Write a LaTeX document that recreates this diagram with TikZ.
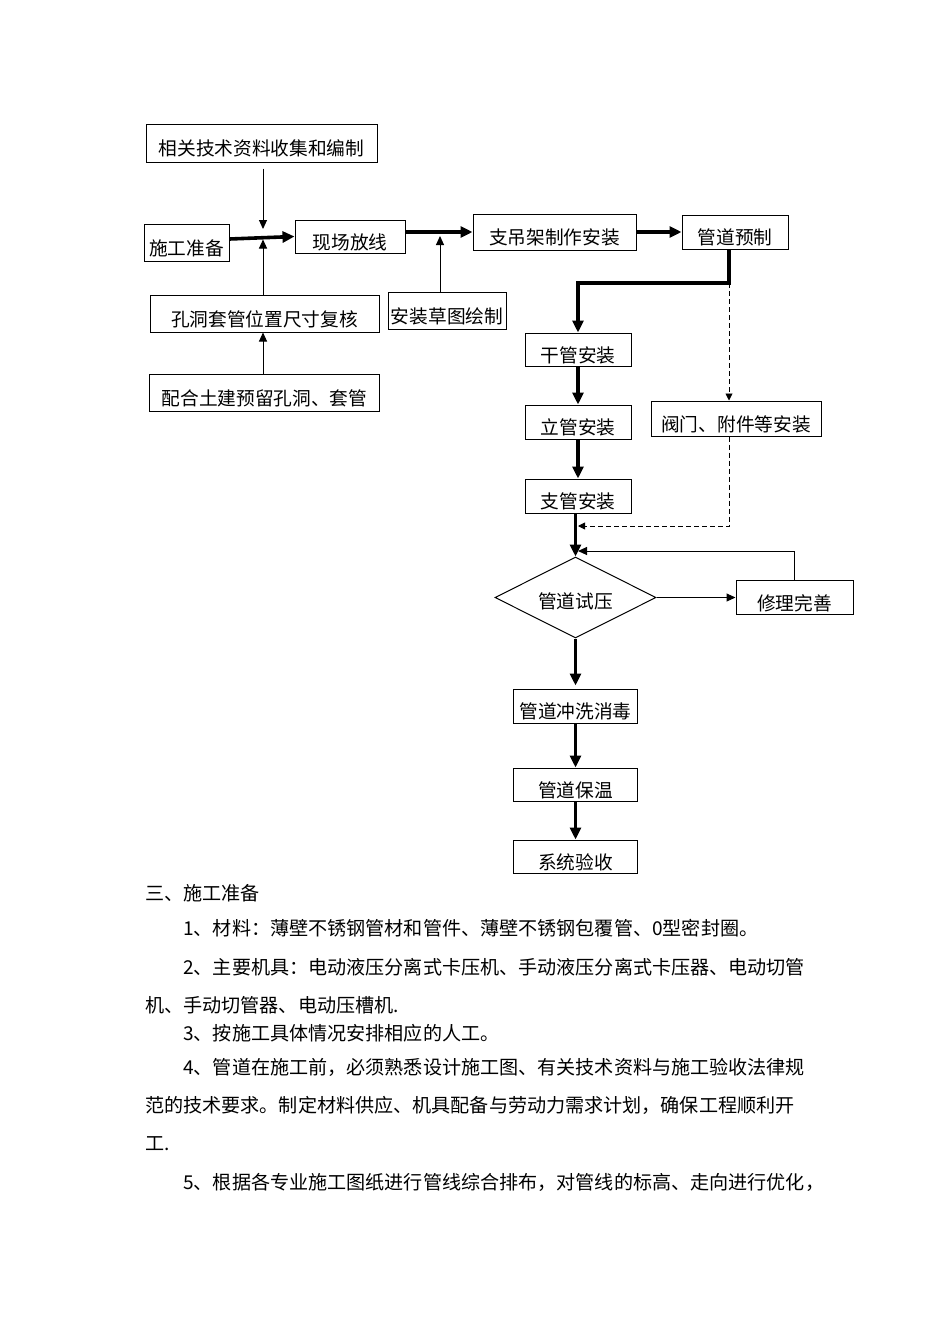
\documentclass[tikz,border=0pt]{standalone}
\usepackage{fontspec}
\usepackage{tikz}
\usetikzlibrary{shapes.geometric, arrows, arrows.meta, positioning, calc}
\newfontfamily\cjkfont{Noto Sans CJK SC}

\begin{document}
\begin{tikzpicture}[x=1pt, y=-1pt,
    font=\cjkfont\fontsize{18.7pt}{22pt}\selectfont,
    box/.style={draw, line width=1pt, inner sep=0pt, text height=29pt, text depth=4pt},
    thickarrow/.style={-{Triangle[length=12pt, width=11pt]}, line width=3.6pt},
    thinarrow/.style={-{Triangle[length=9pt, width=8pt]}, line width=1pt},
    dasharrow/.style={-{Triangle[length=7pt, width=7pt]}, line width=0.9pt, dash pattern=on 5pt off 3pt},
    txt/.style={anchor=base west, inner sep=0pt, font=\cjkfont\fontsize{19.1pt}{22pt}\selectfont}]
    \useasboundingbox (0,0) rectangle (950,1344);

    \node[box, minimum width=231pt, minimum height=38pt] (docs) at (261.5,143) {相关技术资料收集和编制};
    \node[box, minimum width=85pt, minimum height=37pt] (prep) at (186.5,242.5) {施工准备};
    \node[box, minimum width=110pt, minimum height=33pt] (layout) at (350,236.5) {现场放线};
    \node[box, minimum width=229pt, minimum height=37pt] (check) at (264.5,313.5) {孔洞套管位置尺寸复核};
    \node[box, minimum width=230pt, minimum height=37pt, below=41pt of check] (embed) {配合土建预留孔洞、套管};
    \node[box, minimum width=118pt, minimum height=37pt] (sketch) at (447,310.5) {安装草图绘制};
    \node[box, minimum width=163pt, minimum height=36pt] (support) at (554.5,232) {支吊架制作安装};
    \node[box, minimum width=106pt, minimum height=34pt, right=45pt of support] (prefab) {管道预制};

    \node[box, minimum width=106pt, minimum height=33pt] (mainpipe) at (578,349.5) {干管安装};
    \node[box, minimum width=106pt, minimum height=34pt, below=38pt of mainpipe] (riser) {立管安装};
    \node[box, minimum width=106pt, minimum height=34pt, below=39pt of riser] (branch) {支管安装};
    \node[box, minimum width=170pt, minimum height=35pt] (valves) at (736,418.5) {阀门、附件等安装};

    \node[draw, diamond, aspect=2, line width=1pt, minimum width=161pt, minimum height=81pt, inner sep=0pt, text height=24pt, text depth=2pt] (test) at (575.5,597.5) {管道试压};
    \node[box, minimum width=117pt, minimum height=34pt, right=79pt of test] (repair) {修理完善};
    \node[box, minimum width=124pt, minimum height=34pt, below=50pt of test] (flush) {管道冲洗消毒};
    \node[box, minimum width=124pt, minimum height=33pt, below=44pt of flush] (insulate) {管道保温};
    \node[box, minimum width=124pt, minimum height=33pt, below=38pt of insulate] (accept) {系统验收};

    \coordinate (jprep) at (263,238);
    \coordinate (jsketch) at (440,233);
    \coordinate (split) at (729,283);
    \coordinate (jvalve) at (576,526);
    \coordinate (jrepair) at (576,551);

    \draw[thickarrow] ([yshift=3.5pt]prep.east) -- (layout.west);
    \draw[thinarrow, shorten <=6pt, shorten >=9pt] (docs.south -| jprep) -- (jprep);
    \draw[thinarrow, shorten >=1.5pt] (check.north -| jprep) -- (jprep);
    \draw[thinarrow] (embed.north -| jprep) -- (check.south -| jprep);
    \draw[thickarrow] (layout.east |- support.west) -- (support.west);
    \draw[thinarrow, shorten >=3pt] (sketch.north -| jsketch) -- (jsketch);
    \draw[thickarrow] (support.east) -- (support.east -| prefab.west);
    \draw[thickarrow] (prefab.south -| split) -- (split) -| (mainpipe.north);
    \draw[dasharrow] (split) -- (split |- valves.north);
    \draw[thickarrow] (mainpipe.south) -- (riser.north);
    \draw[thickarrow] (riser.south) -- (branch.north);
    \draw[thickarrow] (branch.south -| test.north) -- (test.north);
    \draw[dasharrow, shorten >=2pt] (valves.south -| split) |- (jvalve);
    \draw[thinarrow] (test.east) -- (test.east -| repair.west);
    \draw[thinarrow, shorten >=2pt] (repair.north) |- (jrepair);
    \draw[thickarrow, shorten >=3pt] (test.south) -- (flush.north);
    \draw[thickarrow] (flush.south) -- (insulate.north);
    \draw[thickarrow] (insulate.south) -- (accept.north);

    % text below the chart
    \node[txt] (sec) at (145,900) {三、施工准备};
    \node[txt] (item1) at (183,935) {1、材料：薄壁不锈钢管材和管件、薄壁不锈钢包覆管、0型密封圈。};
    \node[txt] (item2) at (183,974) {2、主要机具：电动液压分离式卡压机、手动液压分离式卡压器、电动切管};
    \node[txt] (item2b) at (145,1012) {机、手动切管器、电动压槽机.};
    \node[txt] (item3) at (183,1040) {3、按施工具体情况安排相应的人工。};
    \node[txt] (item4) at (183,1074) {4、管道在施工前，必须熟悉设计施工图、有关技术资料与施工验收法律规};
    \node[txt] (item4b) at (145,1112) {范的技术要求。制定材料供应、机具配备与劳动力需求计划，确保工程顺利开};
    \node[txt] (item4c) at (145,1150) {工.};
    \node[txt] (item5) at (183,1189) {5、根据各专业施工图纸进行管线综合排布，对管线的标高、走向进行优化，};
\end{tikzpicture}
\end{document}
